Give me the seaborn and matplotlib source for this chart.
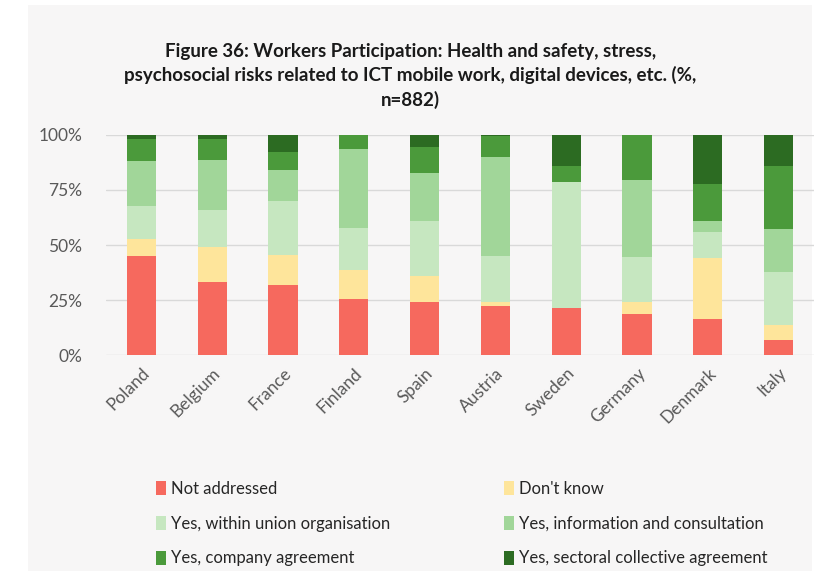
import matplotlib
matplotlib.use("Agg")
import matplotlib.pyplot as plt
import matplotlib.patches as mpatches
from matplotlib.ticker import FuncFormatter
import seaborn as sns
import pandas as pd

countries = ["Poland", "Belgium", "France", "Finland", "Spain",
             "Austria", "Sweden", "Germany", "Denmark", "Italy"]
categories = ["Not addressed", "Don't know", "Yes, within union organisation",
              "Yes, information and consultation", "Yes, company agreement",
              "Yes, sectoral collective agreement"]
not_addressed = [45.0, 33.2, 32.0, 25.5, 24.3, 22.4, 21.3, 18.7, 16.5, 6.9]
dont_know = [7.7, 15.7, 13.6, 13.3, 11.8, 1.9, 0.0, 5.5, 27.5, 7.0]
within_union = [15.0, 16.8, 24.3, 19.1, 24.8, 20.7, 57.1, 20.4, 11.7, 23.7]
info_consult = [20.5, 23.0, 14.1, 35.8, 21.6, 45.0, 0.0, 34.9, 5.2, 19.7]
company_agr = [9.8, 9.3, 8.1, 6.3, 11.8, 9.5, 7.4, 20.5, 16.9, 28.5]
sectoral_agr = [2.0, 2.0, 7.9, 0.0, 5.7, 0.5, 14.2, 0.0, 22.2, 14.2]
yticks = [0, 25, 50, 75, 100]

colors = ["#f6695e", "#fee59b", "#c6e7c0", "#a1d699", "#4b9a3b", "#2c6b22"]

series = [not_addressed, dont_know, within_union, info_consult, company_agr, sectoral_agr]
rows = []
for cat, vals in zip(categories, series):
    for c, v in zip(countries, vals):
        rows.append({"Country": c, "Response": cat, "Share": v})
df = pd.DataFrame(rows)

sns.set_theme(style="white")
plt.rcParams["font.family"] = ["Lato", "DejaVu Sans"]

fig = plt.figure(figsize=(8.21, 5.71), dpi=100, facecolor="white")
fig.patches.append(mpatches.Rectangle((28 / 821, 0), (812 - 28) / 821, 1 - 5 / 571,
                                      transform=fig.transFigure, facecolor="#f7f6f6",
                                      edgecolor="none", zorder=-10))
ax = fig.add_axes([106 / 821, 1 - 355.3 / 571, 708 / 821, 220.6 / 571])
ax.set_facecolor("none")

# seaborn stacks the last hue level at the bottom, so reverse the order
sns.histplot(data=df, x="Country", hue="Response", weights="Share",
             hue_order=categories[::-1], palette=colors[::-1],
             multiple="stack", shrink=0.41, discrete=True,
             linewidth=0, edgecolor="none", alpha=1, legend=False, ax=ax)

ax.set_xlim(-0.5, len(countries) - 0.5)
ax.set_ylim(0, 100)
ax.set_yticks(yticks)
ax.yaxis.set_major_formatter(FuncFormatter(lambda v, p: f"{int(v)}%"))
ax.grid(axis="y", color="#d9d9d9", linewidth=1)
ax.set_axisbelow(True)
for s in ax.spines.values():
    s.set_visible(False)
ax.set_xlabel("")
ax.set_ylabel("")
ax.tick_params(axis="both", length=0, labelsize=12.5, labelcolor="#595959")
ax.tick_params(axis="y", pad=17)
ax.set_xticks(range(len(countries)))
ax.set_xticklabels(countries, rotation=45, ha="right", rotation_mode="anchor")
ax.tick_params(axis="x", pad=7)

fig.text(0.5, 1 - 76 / 571,
         "Figure 36: Workers Participation: Health and safety, stress,\n"
         "psychosocial risks related to ICT mobile work, digital devices, etc. (%,\n"
         "n=882)",
         ha="center", va="center", fontsize=13.5, fontweight="bold",
         color="#1a1a1a", linespacing=1.42, transform=fig.transFigure)

handles = [mpatches.Patch(facecolor=col, edgecolor="none", label=lab)
           for lab, col in zip(categories, colors)]
order = [0, 2, 4, 1, 3, 5]
leg = fig.legend([handles[i] for i in order], [categories[i] for i in order],
                 loc="upper left", bbox_to_anchor=(141 / 821, 1 - 466 / 571),
                 ncol=2, frameon=False, fontsize=12, handlelength=0.6,
                 handleheight=0.9, handletextpad=0.3, columnspacing=6.85,
                 labelspacing=1.12, labelcolor="#262626")

fig.savefig("out.png", dpi=100, facecolor=fig.get_facecolor())
